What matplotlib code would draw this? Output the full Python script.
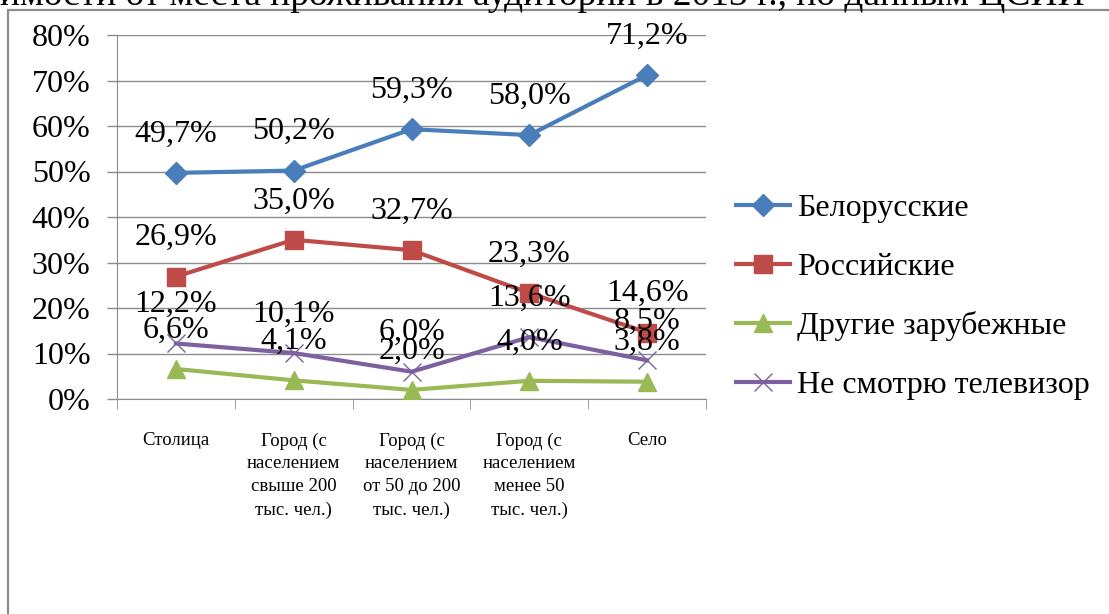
import matplotlib
matplotlib.use("Agg")
import matplotlib.pyplot as plt
from matplotlib.patches import Rectangle
from matplotlib.ticker import FixedLocator

plt.rcParams['font.family'] = ['Liberation Serif', 'DejaVu Serif']

categories = ["Столица", "Город (с\nнаселением\nсвыше 200\nтыс. чел.)",
              "Город (с\nнаселением\nот 50 до 200\nтыс. чел.)",
              "Город (с\nнаселением\nменее 50\nтыс. чел.)", "Село"]
series_names = ["Белорусские", "Российские", "Другие зарубежные", "Не смотрю телевизор"]
belarus = [49.7, 50.2, 59.3, 58.0, 71.2]
russia = [26.9, 35.0, 32.7, 23.3, 14.6]
other = [6.6, 4.1, 2.0, 4.0, 3.8]
no_tv = [12.2, 10.1, 6.0, 13.6, 8.5]
yticks = [0, 10, 20, 30, 40, 50, 60, 70, 80]
title_text = "имости от места проживания аудитории в 2013 г., по данным ЦСИИ"

colors = ["#4A7EBB", "#BE4B48", "#98B954", "#7D60A0"]
markers = ["D", "s", "^", "x"]
msizes = [11, 13, 13, 13]

W, H = 1109, 614
fig = plt.figure(figsize=(W / 100, H / 100), dpi=100)

# outer frame
fig.patches.append(Rectangle((8 / W, -0.2), 1.2, 1.2 - 10 / H, transform=fig.transFigure,
                             fill=False, edgecolor="#8c8c8c", linewidth=1.6, zorder=0))
fig.text(0.0, 1 - 5 / H, title_text, fontsize=27, ha="left", va="baseline")

ax = fig.add_axes([117 / W, 1 - 399 / H, (706 - 117) / W, (399 - 35) / H])
x = list(range(len(categories)))
all_series = [belarus, russia, other, no_tv]
for vals, name, c, m, ms in zip(all_series, series_names, colors, markers, msizes):
    ax.plot(x, vals, color=c, lw=3, marker=m, markersize=ms, label=name,
            markeredgewidth=1 if m != "x" else 1.0, zorder=3)
    for xi, v in zip(x, vals):
        ax.annotate(f"{v:.1f}%".replace(".", ","), (xi, v), xytext=(0, 28),
                    textcoords="offset points", ha="center", va="center",
                    fontsize=23, zorder=5)

ax.set_xlim(-0.5, 4.5)
ax.set_ylim(0, 80)
ax.set_yticks(yticks)
ax.set_yticklabels([f"{t}%" for t in yticks], fontsize=23)
ax.yaxis.grid(True, color="#8c8c8c", lw=1)
ax.set_axisbelow(True)
for s in ["top", "right"]:
    ax.spines[s].set_visible(False)
for s in ["left", "bottom"]:
    ax.spines[s].set_color("#8c8c8c")
ax.tick_params(axis="y", length=7, width=1, color="#8c8c8c", pad=12)
ax.set_xticks(x)
ax.set_xticklabels(categories, fontsize=13.5, linespacing=1.45)
ax.tick_params(axis="x", which="major", length=0, pad=24)
ax.xaxis.set_minor_locator(FixedLocator([-0.5, 0.5, 1.5, 2.5, 3.5, 4.5]))
ax.tick_params(axis="x", which="minor", length=7, color="#8c8c8c")

leg = ax.legend(loc="center left", bbox_to_anchor=(736 / W, 1 - 297 / H),
                bbox_transform=fig.transFigure, frameon=False, fontsize=23,
                labelspacing=0.92, handlelength=1.7, handletextpad=0.22,
                borderaxespad=0, borderpad=0)

fig.savefig("out.png", dpi=100)
